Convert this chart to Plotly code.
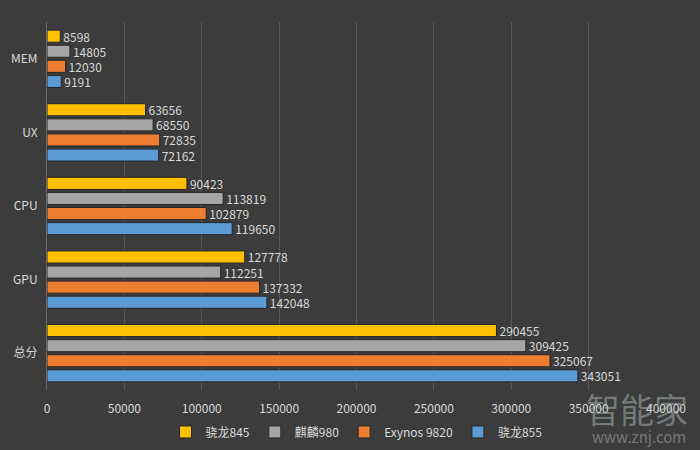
import plotly.graph_objects as go

categories = ["总分", "GPU", "CPU", "UX", "MEM"]
series_names = ["骁龙845", "麒麟980", "Exynos 9820", "骁龙855"]
sd845 = [290455, 127778, 90423, 63656, 8598]
kirin980 = [309425, 112251, 113819, 68550, 14805]
exynos9820 = [325067, 137332, 102879, 72835, 12030]
sd855 = [343051, 142048, 119650, 72162, 9191]
colors = ["#FFC000", "#A5A5A5", "#ED7D31", "#5B9BD5"]
tick_vals = [0, 50000, 100000, 150000, 200000, 250000, 300000, 350000, 400000]

values = [sd845, kirin980, exynos9820, sd855]
font = "Noto Sans CJK SC, Noto Sans, sans-serif"

fig = go.Figure()
# plotly places first trace at bottom of group -> add in reverse order
for name, vals, col in reversed(list(zip(series_names, values, colors))):
    fig.add_trace(go.Bar(
        y=categories, x=vals, name=name, orientation="h",
        marker=dict(color=col, line=dict(color="#262626", width=1)),
        text=[str(v) for v in vals], textposition="outside",
        constraintext="none",
        textfont=dict(color="#d9d9d9", size=12, family=font),
        cliponaxis=False,
    ))

fig.update_layout(
    width=700, height=450,
    paper_bgcolor="#3c3c3c", plot_bgcolor="#3c3c3c",
    margin=dict(l=47, r=34, t=22, b=60, autoexpand=False),
    barmode="group", bargap=0.18, bargroupgap=0.2,
    font=dict(family=font, color="#d9d9d9", size=12),
    showlegend=True,
    legend=dict(orientation="h", x=0.5, xanchor="center", y=-0.114, yanchor="middle",
                traceorder="reversed", font=dict(size=12, color="#d9d9d9"),
                itemwidth=30),
    xaxis=dict(range=[0, 400000], tickvals=tick_vals, ticktext=[str(t) for t in tick_vals],
               showgrid=True, gridcolor="#575757", gridwidth=1, zeroline=False,
               showline=False, tickfont=dict(size=12, color="#d9d9d9"), ticks="",
               ticklabelstandoff=10, automargin=False),
    yaxis=dict(type="category", showline=True, linecolor="#6a6a6a", linewidth=1,
               showgrid=False, ticks="", ticklabelstandoff=6, automargin=False,
               tickfont=dict(size=12, color="#d9d9d9")),
    annotations=[
        dict(text="智能家", x=1.039, y=-0.05, xref="paper", yref="paper", xanchor="right", yanchor="middle",
             showarrow=False, font=dict(size=34, color="rgba(190,200,200,0.45)", family=font)),
        dict(text="www.znj.com", x=1.036, y=-0.125, xref="paper", yref="paper", xanchor="right", yanchor="middle",
             showarrow=False, font=dict(size=15, color="rgba(190,200,200,0.45)", family=font)),
    ],
)

fig.write_html("out.html", post_script="document.body.style.margin='0';",
               config={"displayModeBar": False})
